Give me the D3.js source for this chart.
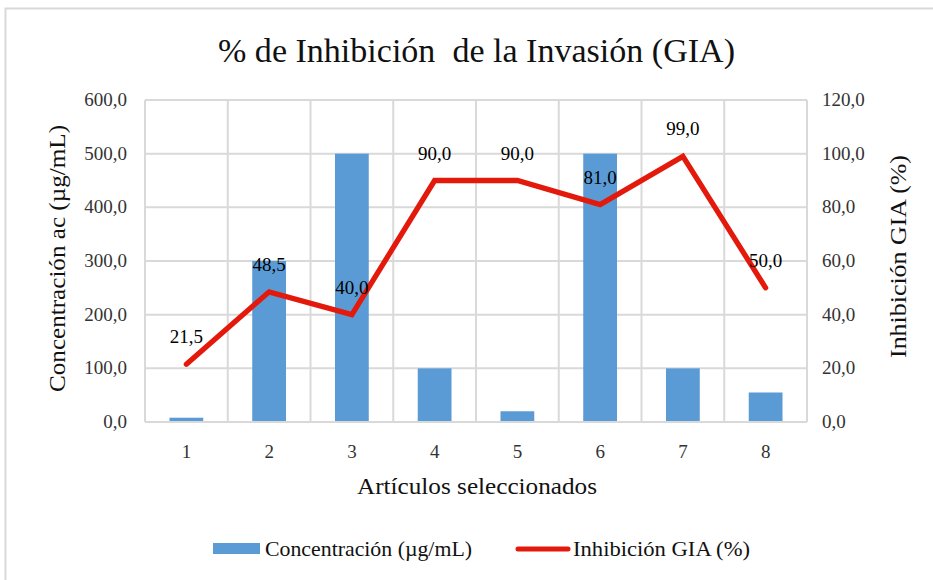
<!DOCTYPE html>
<html><head><meta charset="utf-8">
<script src="https://cdn.jsdelivr.net/npm/d3@7"></script>
<style>body{margin:0;background:#fff}</style>
</head><body>
<script>
const categories = ["1","2","3","4","5","6","7","8"];
const concentracion = [8, 300, 500, 100, 20, 500, 100, 55];
const inhibicion = [21.5, 48.5, 40, 90, 90, 81, 99, 50];
const leftTicks = [0,100,200,300,400,500,600];
const rightTicks = [0,20,40,60,80,100,120];
const title = "% de Inhibición  de la Invasión (GIA)";
const xTitle = "Artículos seleccionados";
const yLeftTitle = "Concentración ac (µg/mL)";
const yRightTitle = "Inhibición GIA (%)";
const legendBar = "Concentración (µg/mL)";
const legendLine = "Inhibición GIA (%)";

const FF = "Liberation Serif";
const W=933,H=580;
const m={l:145,r:807,t:100,b:422};
const svg=d3.select("body").append("svg").attr("width",W).attr("height",H);
svg.append("rect").attr("x",5.5).attr("y",8.5).attr("width",W+10).attr("height",H+10)
  .attr("fill","#fff").attr("stroke","#d9d9d9").attr("stroke-width",2);

const fmt=d=>d3.format(".1f")(d).replace(".",",");
const x=d3.scaleBand().domain(categories).range([m.l,m.r]).paddingInner(0).paddingOuter(0);
const yL=d3.scaleLinear().domain([0,600]).range([m.b,m.t]);
const yR=d3.scaleLinear().domain([0,120]).range([m.b,m.t]);
const grid="#d9d9d9";
const red="#E31A0B";

svg.append("g").selectAll("line").data(leftTicks).join("line")
  .attr("x1",m.l).attr("x2",m.r).attr("y1",d=>yL(d)).attr("y2",d=>yL(d))
  .attr("stroke",grid).attr("stroke-width",2);
const bounds=categories.map(c=>x(c)).concat([m.r]);
svg.append("g").selectAll("line").data(bounds).join("line")
  .attr("x1",d=>d).attr("x2",d=>d).attr("y1",m.t).attr("y2",m.b)
  .attr("stroke",grid).attr("stroke-width",2);

const bw=x.bandwidth()/2.45;
svg.append("g").selectAll("rect").data(concentracion).join("rect")
  .attr("x",(d,i)=>x(categories[i])+x.bandwidth()/2-bw/2).attr("width",bw)
  .attr("y",d=>yL(d)).attr("height",d=>yL(0)-yL(d)).attr("fill","#5B9BD5");

svg.append("line").attr("x1",m.l).attr("x2",m.r).attr("y1",m.b).attr("y2",m.b).attr("stroke",grid).attr("stroke-width",2);

const line=d3.line().x((d,i)=>x(categories[i])+x.bandwidth()/2).y(d=>yR(d));
svg.append("path").datum(inhibicion).attr("d",line).attr("fill","none")
  .attr("stroke",red).attr("stroke-width",5.3).attr("stroke-linejoin","miter").attr("stroke-linecap","round");

const T=(sel)=>sel.attr("font-family",FF);

T(svg.append("g").selectAll("text").data(inhibicion).join("text"))
  .attr("x",(d,i)=>x(categories[i])+x.bandwidth()/2).attr("y",d=>yR(d)-21)
  .attr("text-anchor","middle").attr("font-size",19).attr("fill","#000").text(d=>fmt(d));

T(svg.append("g").selectAll("text").data(leftTicks).join("text"))
  .attr("x",127).attr("y",d=>yL(d)+6).attr("text-anchor","end").attr("font-size",19).attr("fill","#333").text(d=>fmt(d));
T(svg.append("g").selectAll("text").data(rightTicks).join("text"))
  .attr("x",822).attr("y",d=>yR(d)+6).attr("text-anchor","start").attr("font-size",19).attr("fill","#333").text(d=>fmt(d));
T(svg.append("g").selectAll("text").data(categories).join("text"))
  .attr("x",d=>x(d)+x.bandwidth()/2).attr("y",458).attr("text-anchor","middle").attr("font-size",19).attr("fill","#333").text(d=>d);

T(svg.append("text")).attr("x",218).attr("y",62).attr("font-size",33)
  .attr("textLength",517).attr("lengthAdjust","spacingAndGlyphs")
  .attr("fill","#111").style("white-space","pre").text(title);
T(svg.append("text")).attr("x",357).attr("y",494).attr("font-size",23)
  .attr("textLength",240).attr("lengthAdjust","spacingAndGlyphs").attr("fill","#111").text(xTitle);
T(svg.append("text")).attr("transform","translate(65,392) rotate(-90)").attr("font-size",23)
  .attr("textLength",267).attr("lengthAdjust","spacingAndGlyphs").attr("fill","#111").text(yLeftTitle);
T(svg.append("text")).attr("transform","translate(906,358) rotate(-90)").attr("font-size",23)
  .attr("textLength",203).attr("lengthAdjust","spacingAndGlyphs").attr("fill","#111").text(yRightTitle);

svg.append("rect").attr("x",213).attr("y",543).attr("width",47).attr("height",11).attr("fill","#5B9BD5");
T(svg.append("text")).attr("x",265).attr("y",556).attr("font-size",21)
  .attr("textLength",207).attr("lengthAdjust","spacingAndGlyphs").attr("fill","#111").text(legendBar);
svg.append("line").attr("x1",518).attr("x2",568).attr("y1",549).attr("y2",549).attr("stroke",red).attr("stroke-width",5).attr("stroke-linecap","round");
T(svg.append("text")).attr("x",573).attr("y",556).attr("font-size",21)
  .attr("textLength",177).attr("lengthAdjust","spacingAndGlyphs").attr("fill","#111").text(legendLine);
</script>
</body></html>
